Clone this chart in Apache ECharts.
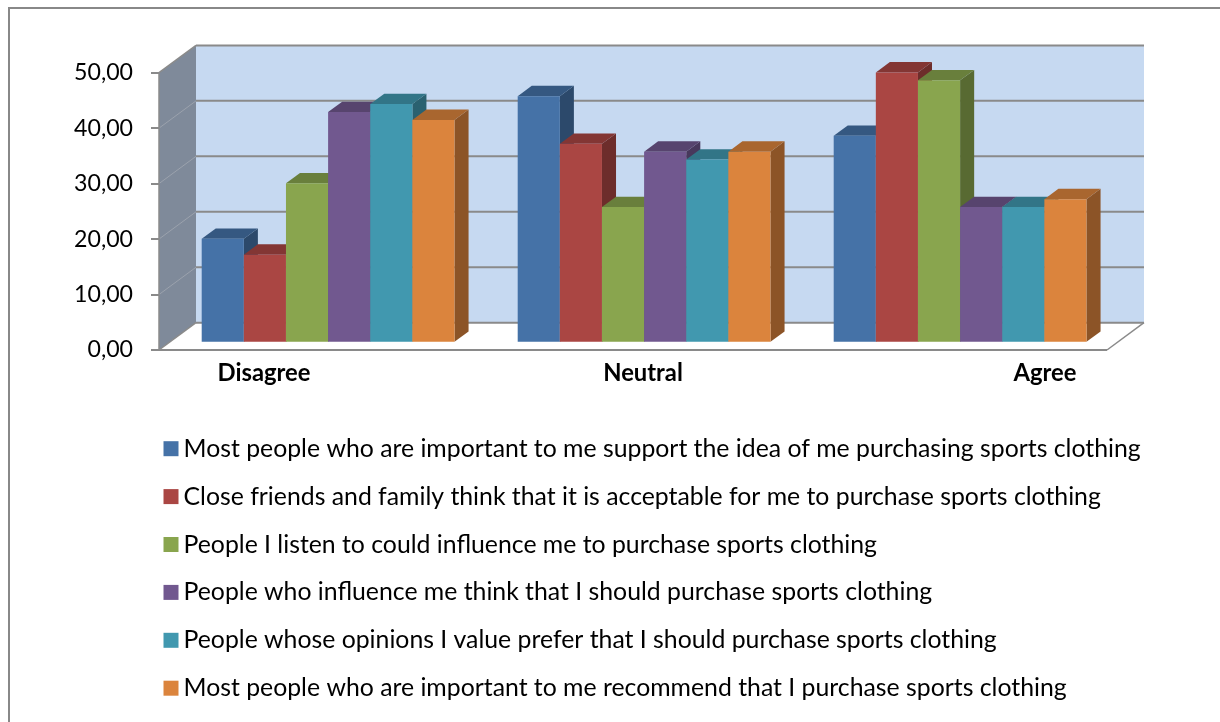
<!DOCTYPE html>
<html>
<head>
<meta charset="utf-8">
<title>Subjective norms – sports clothing</title>
<script src="https://cdn.jsdelivr.net/npm/echarts@6/dist/echarts.min.js"></script>
<style>
  html, body { margin: 0; padding: 0; background: #fff; }
  #chart { width: 1220px; height: 722px; }
</style>
</head>
<body>
<div id="chart"></div>
<script>
// ---- data -------------------------------------------------------------
const CATEGORIES = ['Disagree', 'Neutral', 'Agree'];

const SERIES_NAMES = [
  'Most people who are important to me support the idea of me purchasing sports clothing',
  'Close friends and family think that it is acceptable for me to purchase sports clothing',
  'People I listen to could influence me to purchase sports clothing',
  'People who influence me think that I should purchase sports clothing',
  'People whose opinions I value prefer that I should purchase sports clothing',
  'Most people who are important to me recommend that I purchase sports clothing'
];

const V_SUPPORT    = [18.57, 44.29, 37.14];
const V_ACCEPTABLE = [15.71, 35.71, 48.57];
const V_LISTEN     = [28.57, 24.29, 47.14];
const V_INFLUENCE  = [41.43, 34.29, 24.29];
const V_OPINIONS   = [42.86, 32.86, 24.29];
const V_RECOMMEND  = [40.00, 34.29, 25.71];

const Y_MIN = 0, Y_MAX = 50, Y_STEP = 10;

// ---- styling / layout ---------------------------------------------------
const COLORS = ['#4572A7', '#AA4643', '#89A54E', '#71588F', '#4198AF', '#DB843D'];
const FONT = 'Lato';
const DEPTH_DX = 37, DEPTH_DY = -27.3;      // oblique offset from front plane to back wall
const BAR_FRONT = 0.30, BAR_BACK = 0.68;    // bar depth span, as fractions of the full depth
const GROUP_SHARE = 0.8;                    // share of a category band used by its bars
const LABEL_SHIFT = [-53, 10, 96];          // category label offsets from band centre (px)

const ALL_VALUES = [V_SUPPORT, V_ACCEPTABLE, V_LISTEN, V_INFLUENCE, V_OPINIONS, V_RECOMMEND];

// fit a font size so a text run spans a given width
const measureCtx = document.createElement('canvas').getContext('2d');
function fitSize(text, weight, target) {
  measureCtx.font = weight + ' 100px "' + FONT + '"';
  return 100 * target / measureCtx.measureText(text).width;
}
const LEGEND_SIZE = fitSize(SERIES_NAMES[0], 'normal', 958);
const TICK_SIZE = fitSize('50,00', 'normal', 59);
const CAT_SIZE = fitSize('Disagree', 'bold', 93);

function shade(hex, k) {
  const n = parseInt(hex.slice(1), 16);
  const r = Math.round(((n >> 16) & 255) * k);
  const g = Math.round(((n >> 8) & 255) * k);
  const b = Math.round((n & 255) * k);
  return 'rgb(' + r + ',' + g + ',' + b + ')';
}

// walls, floor and gridlines of the 3-D frame
function renderFrame(params, api) {
  const cs = params.coordSys;
  const x0 = cs.x, x1 = cs.x + cs.width;
  const yAt = v => api.coord([0, v])[1];
  const y0 = yAt(Y_MIN), yT = yAt(Y_MAX);
  const dx = DEPTH_DX, dy = DEPTH_DY;
  const grid = '#8a8a8a';
  const kids = [];
  kids.push({ type: 'polygon', shape: { points: [[x0, y0], [x0, yT], [x0 + dx, yT + dy], [x0 + dx, y0 + dy]] },
              style: { fill: '#7f8a9a' } });
  kids.push({ type: 'rect', shape: { x: x0 + dx, y: yT + dy, width: cs.width, height: y0 - yT },
              style: { fill: '#c6d9f1' } });
  kids.push({ type: 'polygon', shape: { points: [[x0, y0], [x1, y0], [x1 + dx, y0 + dy], [x0 + dx, y0 + dy]] },
              style: { fill: '#ffffff' } });
  for (let v = Y_MIN; v <= Y_MAX; v += Y_STEP) {
    const y = yAt(v);
    kids.push({ type: 'line', shape: { x1: x0 + dx, y1: y + dy, x2: x1 + dx, y2: y + dy },
                style: { stroke: grid, lineWidth: 2 } });
    const edge = (v === Y_MIN || v === Y_MAX);
    kids.push({ type: 'line', shape: { x1: x0, y1: y, x2: x0 + dx, y2: y + dy },
                style: { stroke: edge ? grid : '#9ba2ad', lineWidth: edge ? 1.5 : 1 } });
  }
  kids.push({ type: 'line', shape: { x1: x0, y1: y0, x2: x1, y2: y0 }, style: { stroke: grid, lineWidth: 2 } });
  kids.push({ type: 'line', shape: { x1: x1, y1: y0, x2: x1 + dx, y2: y0 + dy }, style: { stroke: grid, lineWidth: 1.5 } });
  return { type: 'group', silent: true, children: kids };
}

// one 3-D column: side face, top face, front face
function makeBarRenderer(seriesIndex) {
  const color = COLORS[seriesIndex];
  return function (params, api) {
    const c = api.value(0), v = api.value(1);
    const band = api.size([1, 0])[0];
    const group = band * GROUP_SHARE;
    const w = group / SERIES_NAMES.length;
    const centre = api.coord([c, 0]);
    const top = api.coord([c, v]);
    const fx = BAR_FRONT * DEPTH_DX, fy = BAR_FRONT * DEPTH_DY;
    const ddx = (BAR_BACK - BAR_FRONT) * DEPTH_DX, ddy = (BAR_BACK - BAR_FRONT) * DEPTH_DY;
    const x = centre[0] - group / 2 + seriesIndex * w + fx;
    const yb = centre[1] + fy, yt = top[1] + fy;
    return {
      type: 'group',
      children: [
        { type: 'polygon', shape: { points: [[x + w, yt], [x + w + ddx, yt + ddy], [x + w + ddx, yb + ddy], [x + w, yb]] },
          style: { fill: shade(color, 0.64) } },
        { type: 'polygon', shape: { points: [[x, yt], [x + w, yt], [x + w + ddx, yt + ddy], [x + ddx, yt + ddy]] },
          style: { fill: shade(color, 0.77) } },
        { type: 'rect', shape: { x: x, y: yt, width: w, height: yb - yt },
          style: { fill: color } }
      ]
    };
  };
}

function renderCategoryLabel(params, api) {
  const c = api.value(0);
  const p = api.coord([c, 0]);
  return {
    type: 'text',
    silent: true,
    style: {
      text: CATEGORIES[c],
      x: p[0] + LABEL_SHIFT[c],
      y: p[1] + 23,
      align: 'center',
      verticalAlign: 'middle',
      fontFamily: FONT,
      fontWeight: 'bold',
      fontSize: CAT_SIZE,
      fill: '#000'
    }
  };
}

const series = [{
  type: 'custom',
  name: 'frame',
  renderItem: renderFrame,
  data: [[0, 0]],
  z: 1,
  silent: true
}];
ALL_VALUES.forEach((vals, i) => {
  series.push({
    type: 'custom',
    name: SERIES_NAMES[i],
    itemStyle: { color: COLORS[i] },
    renderItem: makeBarRenderer(i),
    encode: { x: 0, y: 1 },
    data: vals.map((v, c) => [c, v]),
    z: 2
  });
});
series.push({
  type: 'custom',
  name: 'labels',
  renderItem: renderCategoryLabel,
  data: CATEGORIES.map((_, c) => [c, 0]),
  z: 3,
  silent: true
});

const chart = echarts.init(document.getElementById('chart'), null, { renderer: 'canvas' });
chart.setOption({
  animation: false,
  backgroundColor: '#ffffff',
  grid: { left: 159, top: 72.7, width: 948, height: 277.3, containLabel: false },
  xAxis: {
    type: 'category',
    data: CATEGORIES,
    axisLine: { show: false },
    axisTick: { show: false },
    axisLabel: { show: false },
    splitLine: { show: false }
  },
  yAxis: {
    type: 'value',
    min: Y_MIN, max: Y_MAX, interval: Y_STEP,
    z: 5,
    axisLine: { show: true, lineStyle: { color: '#8a8a8a', width: 1.5 } },
    axisTick: { show: true, inside: false, length: 8, lineStyle: { color: '#8a8a8a', width: 2 } },
    axisLabel: {
      margin: 26,
      fontFamily: FONT,
      fontSize: TICK_SIZE,
      color: '#000',
      formatter: v => v.toFixed(2).replace('.', ',')
    },
    splitLine: { show: false }
  },
  legend: {
    data: SERIES_NAMES,
    orient: 'vertical',
    left: 163.5,
    top: 436.2,
    padding: 0,
    itemWidth: 15,
    itemHeight: 15,
    itemGap: 22.9,
    icon: 'rect',
    selectedMode: false,
    textStyle: { fontFamily: FONT, fontSize: LEGEND_SIZE, color: '#000', lineHeight: 24 }
  },
  graphic: [{
    type: 'rect',
    shape: { x: 9, y: 8, width: 1400, height: 900 },
    style: { fill: 'none', stroke: '#888888', lineWidth: 2 },
    silent: true,
    z: 100
  }],
  series: series
});
</script>
</body>
</html>
